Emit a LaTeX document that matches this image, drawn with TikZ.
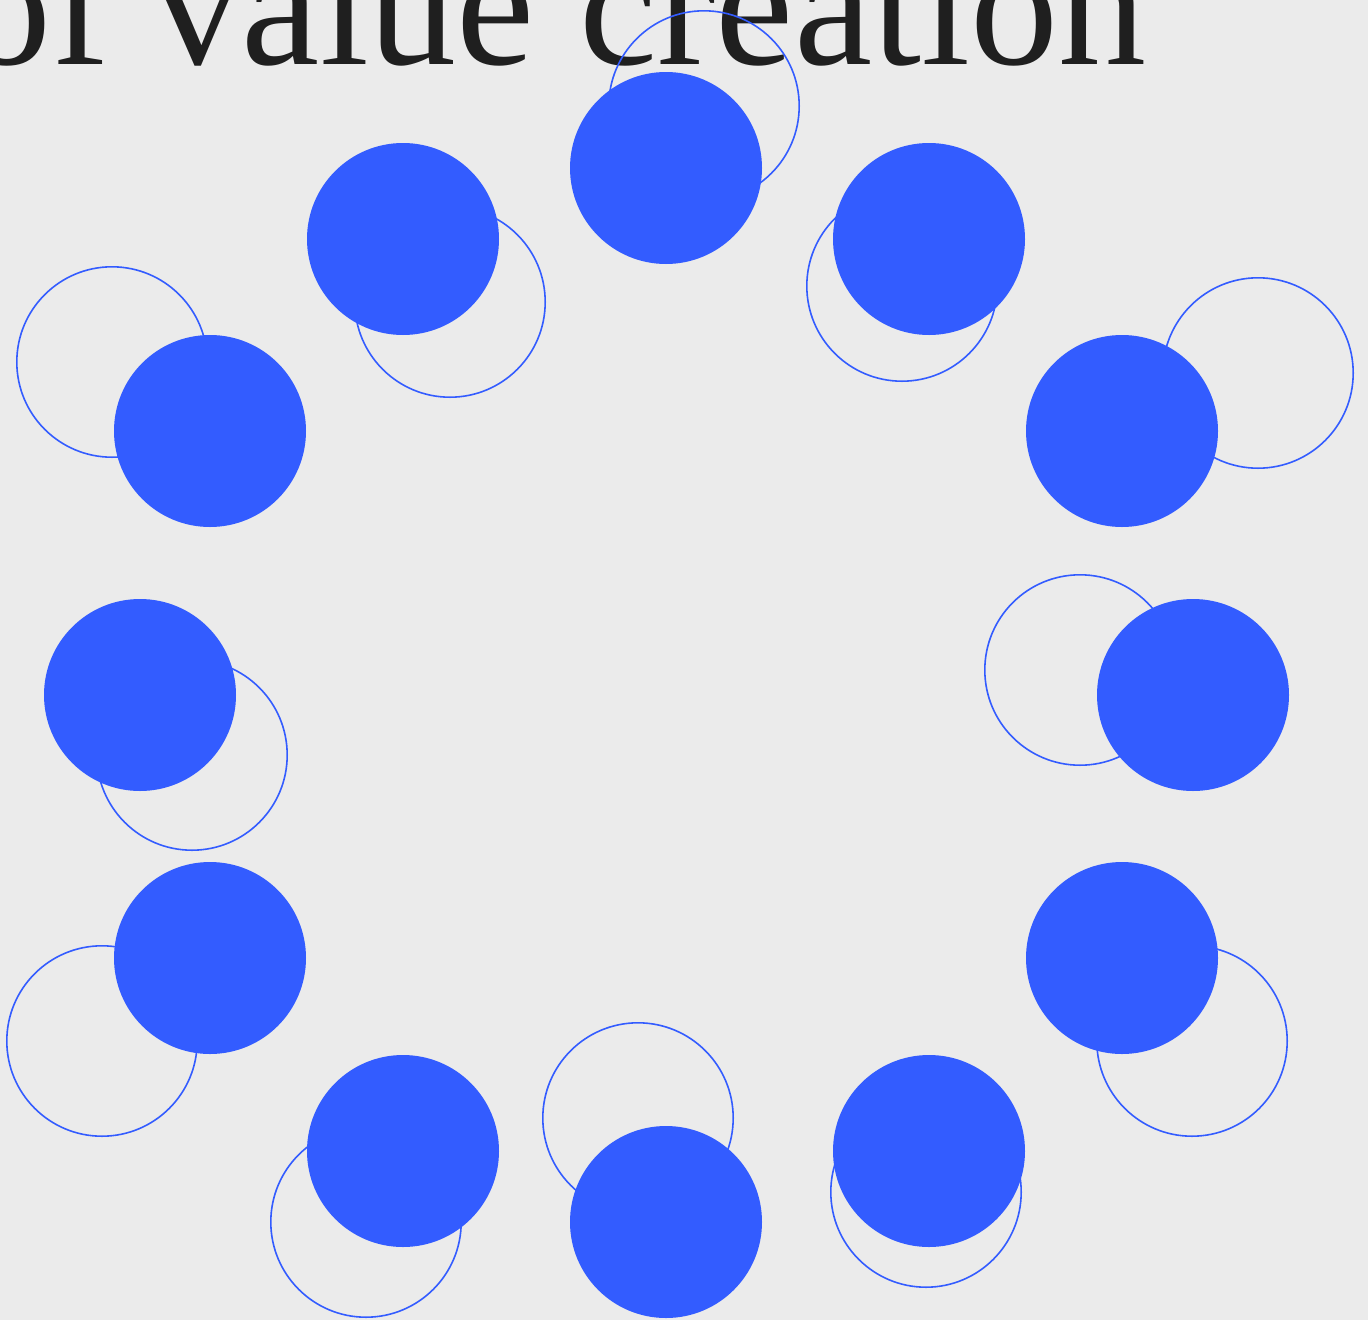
\documentclass[tikz,border=0pt]{standalone}
\usepackage{fontspec}
\setmainfont{Liberation Serif}
\definecolor{bg}{HTML}{EBEBEB}
\definecolor{bl}{HTML}{335CFF}
\definecolor{ink}{HTML}{1F1F1F}
\begin{document}
\begin{tikzpicture}[x=1pt,y=-1pt,
  dot/.style={circle,fill=bl,draw=none,minimum size=192pt,inner sep=0pt},
  ring/.style={circle,draw=bl,line width=1.6pt,minimum size=190.4pt,inner sep=0pt}]
\fill[bg] (0,0) rectangle (1368,1320);
\useasboundingbox (0,0) rectangle (1368,1320);
\node[anchor=base east,inner sep=0pt,text=ink,font=\fontsize{176}{176}\selectfont] (title) at (1146,64) {of value creation};
% rings
\node[ring] (r1) at (704,106) {};
\node[ring] (r2) at (902,286) {};
\node[ring] (r3) at (1258,373) {};
\node[ring] (r4) at (1080,670) {};
\node[ring] (r5) at (1192,1041) {};
\node[ring] (r6) at (926,1192) {};
\node[ring] (r7) at (638,1118) {};
\node[ring] (r8) at (366,1222) {};
\node[ring] (r9) at (102,1041) {};
\node[ring] (r10) at (192,755) {};
\node[ring] (r11) at (112,362) {};
\node[ring] (r12) at (450,302) {};
% dots
\node[dot] (d1) at (666,168) {};
\node[dot] (d2) at (929,239) {};
\node[dot] (d3) at (1122,431) {};
\node[dot] (d4) at (1193,695) {};
\node[dot] (d5) at (1122,958) {};
\node[dot] (d6) at (929,1151) {};
\node[dot] (d7) at (666,1222) {};
\node[dot] (d8) at (403,1151) {};
\node[dot] (d9) at (210,958) {};
\node[dot] (d10) at (140,695) {};
\node[dot] (d11) at (210,431) {};
\node[dot] (d12) at (403,239) {};
\end{tikzpicture}
\end{document}
